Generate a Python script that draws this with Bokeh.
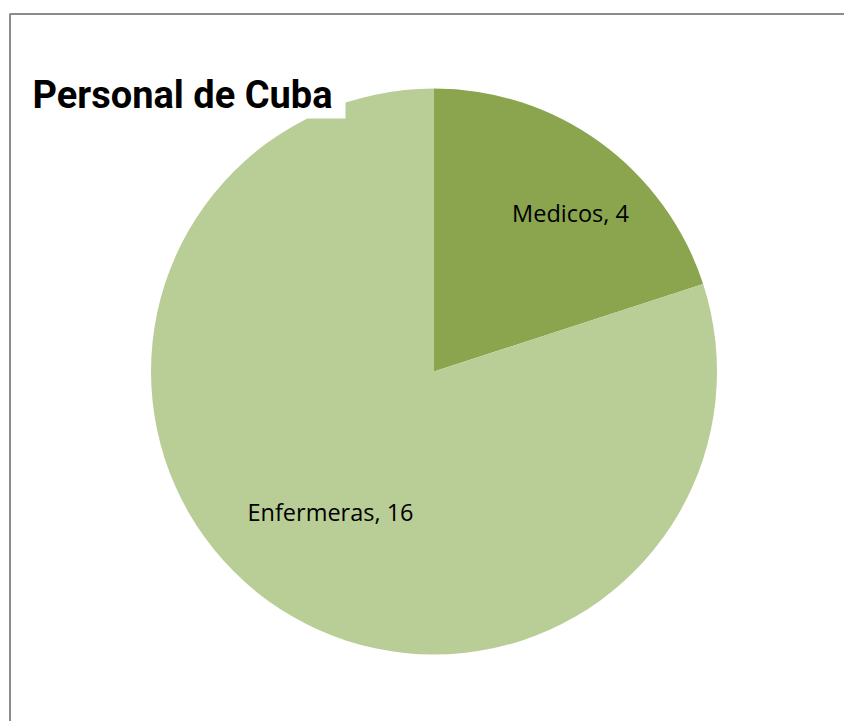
import math
from bokeh.plotting import figure
from bokeh.models import Range1d, ColumnDataSource
from bokeh.core.properties import value
from bokeh.embed import file_html
from bokeh.resources import INLINE

# ---- data ----
categories = ["Medicos", "Enfermeras"]
counts = [4, 16]
colors = ["#8ba54f", "#b9cd96"]
title_text = "Personal de Cuba"

W, H = 844, 721
p = figure(width=W, height=H, output_backend="svg", toolbar_location=None,
           x_range=Range1d(0, W), y_range=Range1d(0, H),
           min_border=0, min_border_left=0, min_border_right=0,
           min_border_top=0, min_border_bottom=0)
p.axis.visible = False
p.grid.visible = False
p.outline_line_color = None
p.background_fill_color = "white"
p.border_fill_color = "white"

def fy(page_y):
    return H - page_y

def fx(page_x):
    return page_x

# pie geometry
cx, cy, r = fx(433.5), fy(371), 283

total = sum(counts)
starts, ends, labels = [], [], []
a = math.pi / 2
for c, n in zip(categories, counts):
    sweep = 2 * math.pi * n / total
    starts.append(a)
    ends.append(a - sweep)
    a -= sweep
    labels.append(f"{c}, {n}")

src = ColumnDataSource(dict(start=starts, end=ends, color=colors))
p.wedge(x=cx, y=cy, radius=r, start_angle="start", end_angle="end",
        direction="clock", fill_color="color", line_color=None, source=src)

# data label positions
lx = [fx(570), fx(330)]
ly = [fy(212), fy(511)]
p.text(x=lx, y=ly, text=labels, text_align="center", text_baseline="middle",
       text_font=value("Open Sans"), text_font_size="23.5px", text_color="#000000")

# title box (white) overlapping pie
p.quad(left=fx(10), right=fx(345), top=fy(14), bottom=fy(118),
       fill_color="white", line_color=None)
p.text(x=[fx(32)], y=[fy(94)], text=[title_text], text_align="left",
       text_baseline="alphabetic", text_font=value("Roboto"),
       text_font_style="bold", text_font_size="38px", text_color="#000000")

# chart border (top and left visible)
p.line(x=[fx(9.5), fx(9.5), fx(900)], y=[fy(900), fy(13.5), fy(13.5)],
       line_color="#8c8c8c", line_width=2)

open("out.html", "w").write(file_html(p, INLINE))
